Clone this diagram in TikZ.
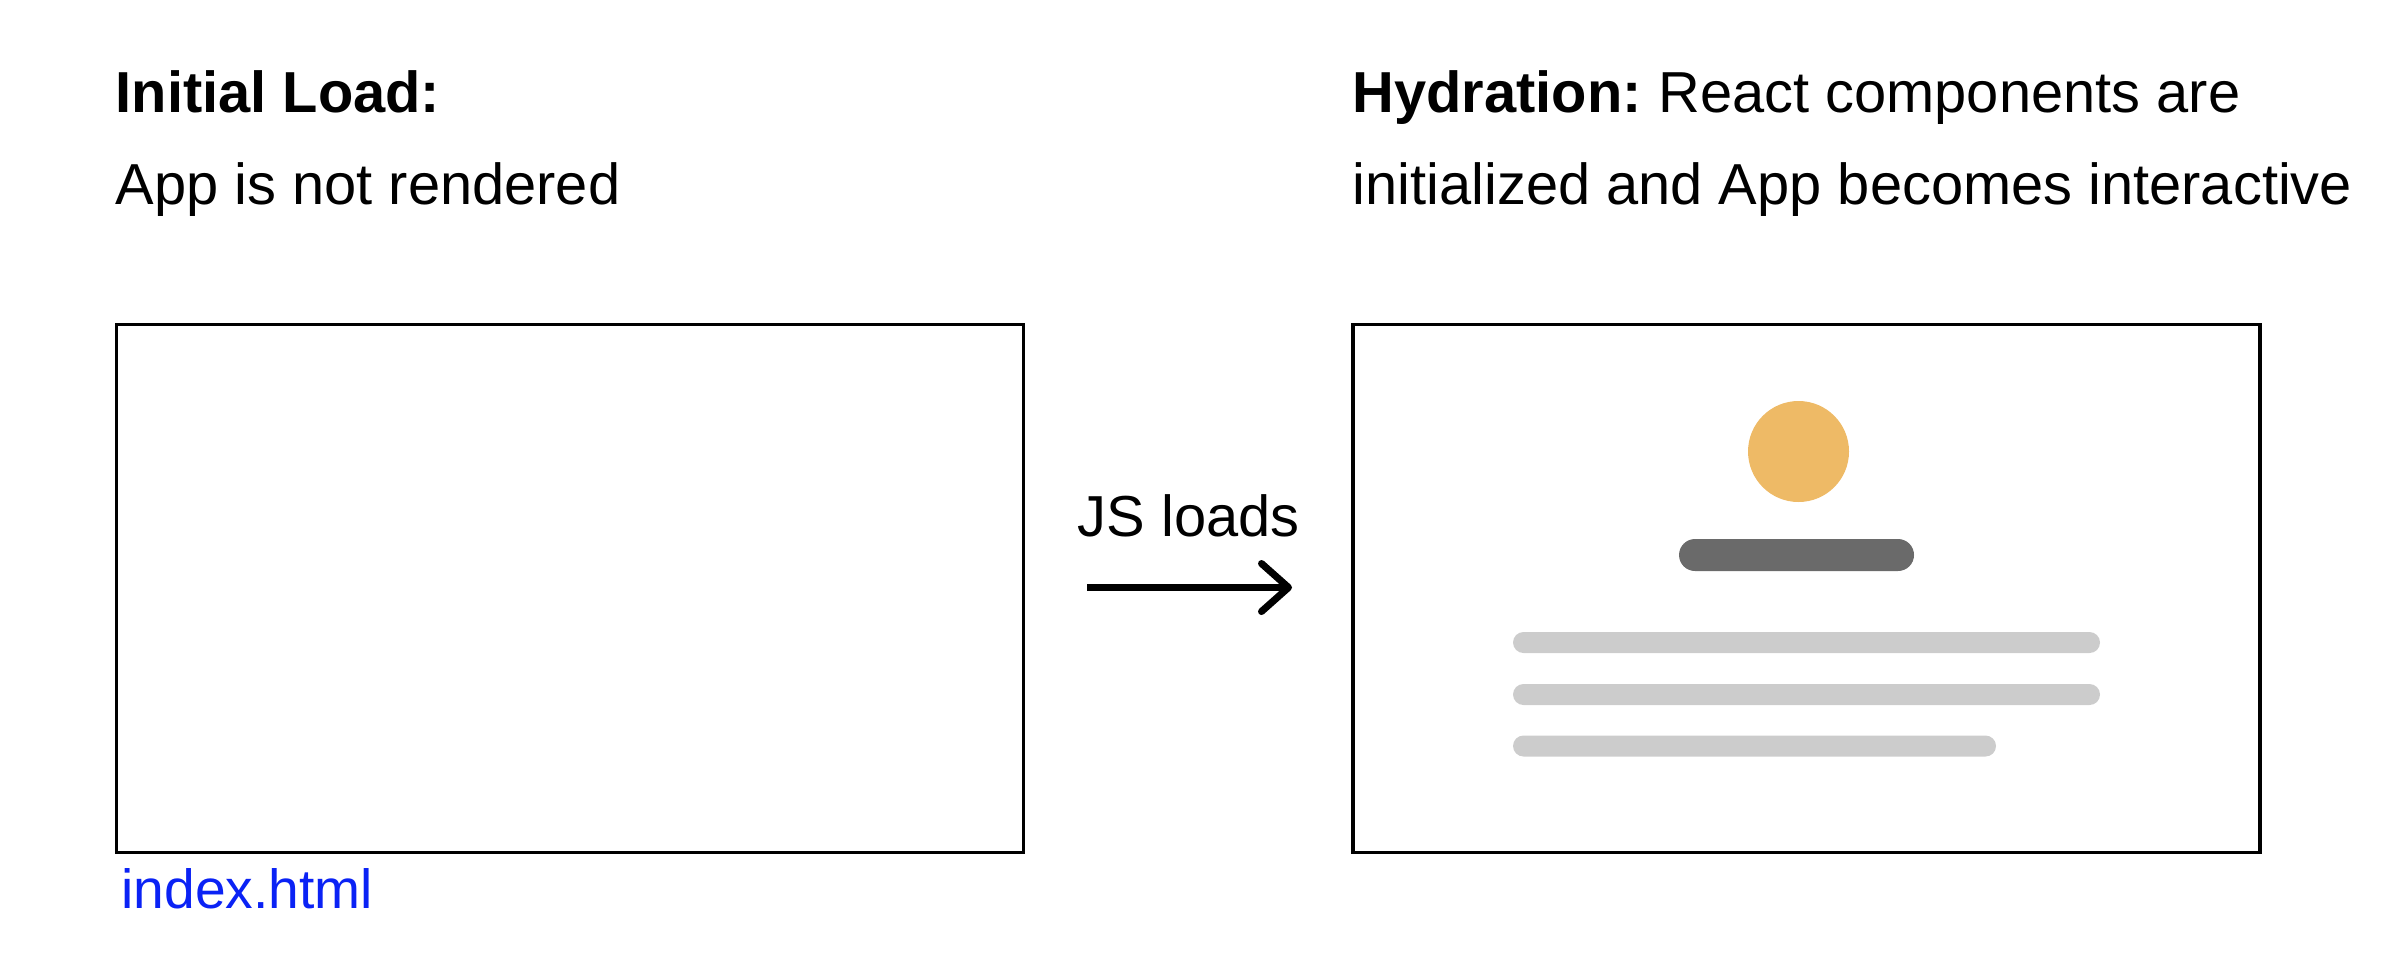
\documentclass[tikz,border=0pt]{standalone}
\usepackage{fontspec}
\setmainfont{Liberation Sans}
\usepackage{xcolor}
\usetikzlibrary{arrows.meta}
\definecolor{avatar}{HTML}{EEBA66}
\definecolor{titlebar}{HTML}{6A6A6A}
\definecolor{textbar}{HTML}{CCCCCC}
\definecolor{filelink}{HTML}{0A22F5}
\tikzset{
  label text/.style={inner sep=0, anchor=base west, font=\fontsize{16.45}{20}\selectfont},
  screen/.style={rectangle, draw, line width=1pt, minimum width=9.07cm, minimum height=5.28cm, inner sep=0},
  bar/.style={rectangle, rounded corners=0.105cm, inner sep=0, minimum height=0.21cm, fill=textbar}
}
\begin{document}
\begin{tikzpicture}
  \useasboundingbox (0,0) rectangle (24,-9.64);

  \node[label text] (initial) at (1.15,-1.12) {\textbf{Initial Load:}};
  \node[label text] (notrendered) at (1.15,-2.04) {App is not rendered};
  \node[label text] (hydration) at (13.52,-1.12) {\textbf{Hydration:}\hspace{-0.08em} React components are};
  \node[label text] (interactive) at (13.52,-2.04) {initialized and App becomes interactive};

  \node[screen] (before) at (5.7,-5.885) {};
  \node[screen] (after) at (18.065,-5.885) {};
  \node[label text, text=filelink, font=\fontsize{15.7}{20}\selectfont] (index) at (1.21,-9.08) {index.html};
  \node[label text] (jsloads) at (10.77,-5.36) {JS loads};

  \node[circle, fill=avatar, minimum size=1.01cm, inner sep=0] (avatar) at (17.985,-4.515) {};
  \node[bar, fill=titlebar, rounded corners=0.16cm, minimum width=2.35cm, minimum height=0.32cm] (name) at (17.965,-5.55) {};
  \node[bar, minimum width=5.87cm] (line1) at (18.065,-6.425) {};
  \node[bar, minimum width=5.87cm] (line2) at (18.065,-6.945) {};
  \node[bar, minimum width=4.83cm] (line3) at (17.545,-7.46) {};

  \coordinate (arrowstart) at (10.87,-5.875);
  \coordinate (arrowend) at (12.92,-5.875);
  \draw[line width=2pt, -{Straight Barb[length=0.27cm, width=0.48cm, round]}] (arrowstart) -- (arrowend);
\end{tikzpicture}
\end{document}
